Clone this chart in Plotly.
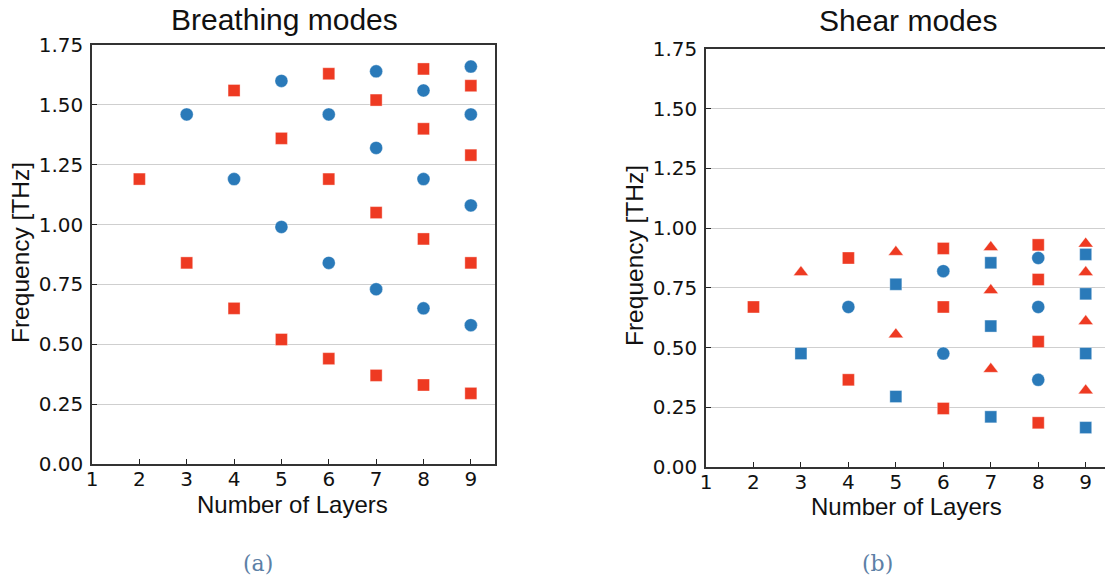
import plotly.graph_objects as go

# ---- Data: Breathing modes ----
br_circle_x = [3, 4, 5, 5, 6, 6, 7, 7, 7, 8, 8, 8, 9, 9, 9, 9]
br_circle_y = [1.46, 1.19, 1.60, 0.99, 1.46, 0.84, 1.64, 1.32, 0.73, 1.56, 1.19, 0.65, 1.66, 1.46, 1.08, 0.58]
br_square_x = [2, 3, 4, 4, 5, 5, 6, 6, 6, 7, 7, 7, 8, 8, 8, 8, 9, 9, 9, 9]
br_square_y = [1.19, 0.84, 1.56, 0.65, 1.36, 0.52, 1.63, 1.19, 0.44, 1.52, 1.05, 0.37, 1.65, 1.40, 0.94, 0.33, 1.58, 1.29, 0.84, 0.295]

# ---- Data: Shear modes ----
sh_red_square_x = [2, 4, 4, 6, 6, 6, 8, 8, 8, 8]
sh_red_square_y = [0.67, 0.875, 0.365, 0.915, 0.67, 0.245, 0.93, 0.785, 0.525, 0.185]
sh_red_tri_x = [3, 5, 5, 7, 7, 7, 9, 9, 9, 9]
sh_red_tri_y = [0.815, 0.90, 0.555, 0.92, 0.74, 0.41, 0.935, 0.815, 0.61, 0.32]
sh_blue_square_x = [3, 5, 5, 7, 7, 7, 9, 9, 9, 9]
sh_blue_square_y = [0.475, 0.765, 0.295, 0.855, 0.59, 0.21, 0.89, 0.725, 0.475, 0.165]
sh_blue_circle_x = [4, 6, 6, 8, 8, 8]
sh_blue_circle_y = [0.67, 0.82, 0.475, 0.875, 0.67, 0.365]

y_ticks = [0.0, 0.25, 0.5, 0.75, 1.0, 1.25, 1.5, 1.75]
y_ticklabels = ["0.00", "0.25", "0.50", "0.75", "1.00", "1.25", "1.50", "1.75"]
x_ticks = [1, 2, 3, 4, 5, 6, 7, 8, 9]

BLUE = "#2a7ab9"
RED = "#ee3a22"

W, H = 1105, 583

fig = go.Figure()

def mk(sym, color, size):
    return dict(symbol=sym, color=color, size=size, line=dict(width=0.6, color="rgba(255,255,255,0.6)"))

fig.add_trace(go.Scatter(x=br_circle_x, y=br_circle_y, mode="markers", marker=mk("circle", BLUE, 13),
                         xaxis="x", yaxis="y", showlegend=False))
fig.add_trace(go.Scatter(x=br_square_x, y=br_square_y, mode="markers", marker=mk("square", RED, 12),
                         xaxis="x", yaxis="y", showlegend=False))

fig.add_trace(go.Scatter(x=sh_red_square_x, y=sh_red_square_y, mode="markers", marker=mk("square", RED, 12),
                         xaxis="x2", yaxis="y2", showlegend=False))
fig.add_trace(go.Scatter(x=sh_red_tri_x, y=sh_red_tri_y, mode="markers", marker=mk("triangle-up", RED, 13),
                         xaxis="x2", yaxis="y2", showlegend=False))
fig.add_trace(go.Scatter(x=sh_blue_square_x, y=sh_blue_square_y, mode="markers", marker=mk("square", BLUE, 12),
                         xaxis="x2", yaxis="y2", showlegend=False))
fig.add_trace(go.Scatter(x=sh_blue_circle_x, y=sh_blue_circle_y, mode="markers", marker=mk("circle", BLUE, 13),
                         xaxis="x2", yaxis="y2", showlegend=False))

tickfont = dict(family="DejaVu Sans", size=20, color="#111111")

def xax(domain, rng, mirror, anchor):
    return dict(domain=domain, range=rng, tickvals=x_ticks, ticks="inside", ticklen=5, tickwidth=1.3,
                tickcolor="#222", showline=True, linecolor="#333", linewidth=1.6, mirror=mirror,
                showgrid=False, zeroline=False, tickfont=tickfont, anchor=anchor, fixedrange=True,
                automargin=False, ticklabelstandoff=-4)

def yax(domain, mirror, anchor):
    return dict(domain=domain, range=[0, 1.75], tickvals=y_ticks, ticktext=y_ticklabels, ticks="inside",
                ticklen=5, tickwidth=1.3, tickcolor="#222", showline=True, linecolor="#333", linewidth=1.6,
                mirror=mirror, showgrid=True, gridcolor="#cfcfcf", gridwidth=1, zeroline=False,
                tickfont=tickfont, anchor=anchor, fixedrange=True, ticklabelstandoff=3,
                automargin=False)

# pixel geometry
L1, R1, T1, B1 = 92, 495, 45, 464
L2, T2, B2 = 706, 49, 467
px_per_unit2 = (1085.7 - 706) / 8
R2 = W
x2max = 1 + (R2 - L2) / px_per_unit2

fig.update_layout(
    width=W, height=H,
    margin=dict(l=0, r=0, t=0, b=0, pad=0, autoexpand=False),
    paper_bgcolor="white", plot_bgcolor="white",
    xaxis=xax([L1 / W, R1 / W], [1, 9.51], True, "y"),
    yaxis=yax([1 - B1 / H, 1 - T1 / H], True, "x"),
    xaxis2=xax([L2 / W, 1.0], [1, x2max], True, "y2"),
    yaxis2=yax([1 - B2 / H, 1 - T2 / H], False, "x2"),
)

def ann(text, x, y, size, family="Liberation Sans", color="#111111", angle=0):
    fig.add_annotation(text=text, x=x / W, y=1 - y / H, xref="paper", yref="paper", showarrow=False,
                       font=dict(family=family, size=size, color=color), textangle=angle,
                       xanchor="center", yanchor="middle")

ann("Breathing modes", 284, 19, 30)
ann("Shear modes", 908, 21, 30)
ann("Number of Layers", 292, 504, 24)
ann("Number of Layers", 906, 507, 24)
ann("Frequency [THz]", 20, 253, 24.5, angle=-90)
ann("Frequency [THz]", 634, 256, 24.5, angle=-90)
ann("(a)", 258, 563, 22, family="DejaVu Serif", color="#5c80a6")
ann("(b)", 877, 563, 22, family="DejaVu Serif", color="#5c80a6")

fig.write_html("out.html")
